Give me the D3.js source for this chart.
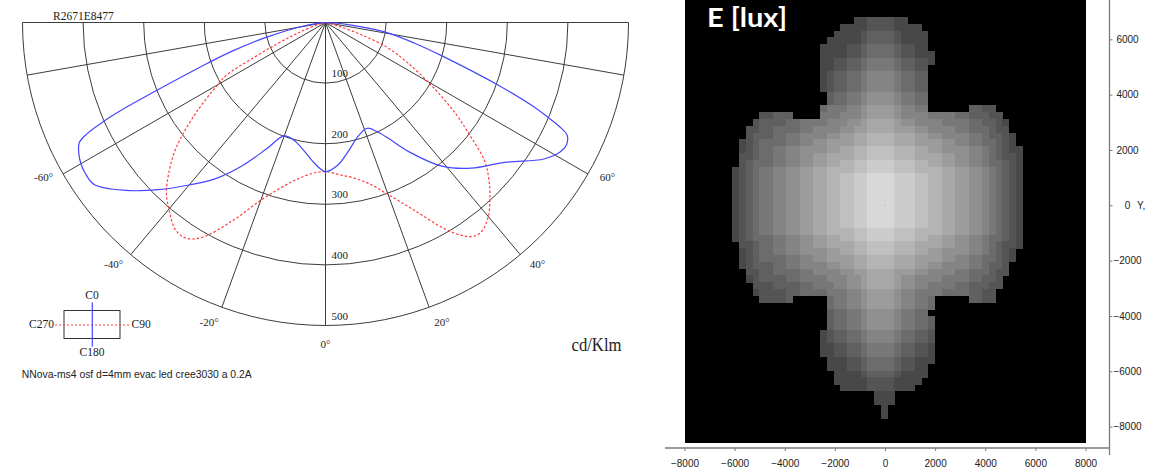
<!DOCTYPE html>
<html>
<head>
<meta charset="utf-8">
<script src="https://cdn.jsdelivr.net/npm/d3@7"></script>
<style>
  html, body { margin: 0; padding: 0; background: #fff; }
  svg { display: block; }
  .serif { font-family: "Liberation Serif", "Times New Roman", serif; fill: #222; }
  .sans { font-family: "Liberation Sans", Arial, sans-serif; fill: #222; }
</style>
</head>
<body>
<div id="chart"></div>
<script>
// photometric curves: gamma angle (deg, negative = left half) and intensity (cd/klm)
const blueAngles = [-90, -85, -80, -76, -73, -71, -68, -67, -66, -65, -64, -62, -60, -58, -55, -50, -45, -40, -35, -30, -25, -20, -15, -10, -5,
  0, 5, 10, 15, 20, 22, 25, 28, 33, 39, 45, 52, 58, 61, 63, 65, 66, 67, 68, 70, 74, 77, 81, 85, 90];
const blueValues = [0, 12, 45, 100, 160, 205, 305, 355, 400, 434, 452, 461, 466, 468, 466, 431, 390, 350, 314, 272, 230, 199, 201, 213, 231,
  246, 236, 216, 198, 188, 188, 198, 214, 255, 305, 340, 375, 425, 442, 446, 440, 423, 397, 370, 305, 200, 150, 97, 35, 0];

const redAngles = [-90, -80, -75, -70, -68, -66, -64, -62, -60, -55, -50, -46, -43, -40, -36, -33, -30, -25, -20, -15, -10, -5,
  0, 5, 10, 15, 20, 25, 30, 33, 35, 37, 40, 43, 46, 49, 52, 55, 59, 64, 68, 71, 74, 78, 80, 90];
const redValues = [0, 0, 12, 40, 60, 90, 130, 185, 205, 262, 322, 360, 385, 402, 422, 424, 410, 360, 312, 282, 262, 250,
  246, 252, 260, 275, 302, 340, 393, 420, 430, 430, 418, 398, 375, 348, 302, 262, 207, 150, 110, 65, 25, 5, 0, 0];

const radiusTicks = [100, 200, 300, 400, 500];
const spokeAngles = [-80, -60, -40, -20, 0, 20, 40, 60, 80];
const angleTicks = [-60, -40, -20, 0, 20, 40, 60];

const xTicks = [-8000, -6000, -4000, -2000, 0, 2000, 4000, 6000, 8000];
const yTicks = [6000, 4000, 2000, 0, -2000, -4000, -6000, -8000];

// illuminance raster: [row, first column, hex levels]  (0 = black, f = brightest)
const heatSegments = [
  [3, 25, '33444433'],
  [4, 23, '333344443333'],
  [5, 22, '33334555543333'],
  [6, 21, '333334555543333'],
  [7, 20, '3333445666654433'],
  [8, 20, '33334456666544333'],
  [9, 20, '33445567777655443'],
  [10, 20, '3344556777765544'],
  [11, 20, '3455667888876655'],
  [12, 20, '3455667888876655'],
  [13, 20, '3455667888876655'],
  [14, 21, '566778999987766'],
  [15, 21, '566778999987766'],
  [16, 20, '6777889aaaa98877'], [16, 42, '5544'],
  [17, 11, '44555'], [17, 20, '7778889aaaa9888877776655544'],
  [18, 10, '4555566777788899abbbba9988887777665543'],
  [19, 9, '4455666677888899aabbbbaaa99888877666544'],
  [20, 9, '45556677888899aabbccccbbbaa9988887765543'],
  [21, 8, '3456666778899aaaabbccccbbbaaaa99887766543'],
  [22, 8, '3456677889999aabbccddddcccbbaa999988765433'],
  [23, 8, '44566778899aabbbbccddddcccbbbbaa9988765443'],
  [24, 8, '45666778899aabbccddeeeedddccbbaa9988766543'],
  [25, 7, '3456778899aabbccccddeeeedddccccbbaa99876543'],
  [26, 7, '3456778899aabbccddeeffffeeeddccbbaa99876543'],
  [27, 7, '3456778899aabbccddeeffffeeeddccbbaa99876543'],
  [28, 7, '3456778899aabbccddeeffffeeeddccbbaa99876543'],
  [29, 7, '3456778899aabbccddeeffffeeeddccbbaa99876543'],
  [30, 7, '3456778899aabbccddeeffffeeeddccbbaa99876543'],
  [31, 7, '3456778899aabbccddeeffffeeeddccbbaa99876543'],
  [32, 7, '3456778899aabbccddeeffffeeeddccbbaa99876543'],
  [33, 7, '3456778899aabbccddeeffffeeeddccbbaa99876543'],
  [34, 7, '3456778899aabbccccddeeeedddccccbbaa99876543'],
  [35, 7, '345666778899aabbccddeeeedddccbbaa9988766543'],
  [36, 8, '44566778899aabbbbccddddcccbbbbaa9988765443'],
  [37, 8, '3456677889999aabbccddddcccbbaa99998876543'],
  [38, 8, '3456666778899aaaabbccccbbbaaaa99887766543'],
  [39, 8, '345556677888899aabbccccbbbaa998888776554'],
  [40, 9, '4455666677888899aabbbbaaa99888877666544'],
  [41, 9, '34555566777788899abbbba998888777766554'],
  [42, 10, '4445555667778899abbbba998877776655544'],
  [43, 10, '34444556666777889aaaa988777766665544'],
  [44, 11, '44445'], [44, 21, '677889aaaa988776'], [44, 42, '5544'],
  [45, 21, '677889aaaa988776'],
  [46, 21, '566778999987766'],
  [47, 21, '5667789999877665'],
  [48, 21, '5667789999877665'],
  [49, 20, '34556678888766554'],
  [50, 20, '34556678888766554'],
  [51, 20, '33445567777655443'],
  [52, 20, '33445567777655443'],
  [53, 21, '3334456666544333'],
  [54, 21, '333445666654433'],
  [55, 22, '33334555543333'],
  [56, 22, '3333344443333'],
  [57, 23, '33334444333'],
  [58, 28, '333'],
  [59, 28, '333'],
  [60, 29, '3'],
  [61, 29, '3']
];

const width = 1171;
const height = 472;

const svg = d3.select('#chart').append('svg')
  .attr('width', width)
  .attr('height', height);

// ---------- polar diagram ----------
const r = d3.scaleLinear().domain([0, 500]).range([0, 303]);
const toRad = (deg) => (180 - deg) * Math.PI / 180;
const gridColor = '#3c3c3c';

const polar = svg.append('g').attr('transform', 'translate(325.5, 22.5)');

radiusTicks.forEach((v) => {
  const p = d3.path();
  p.moveTo(r(v), 0);
  p.arc(0, 0, r(v), 0, Math.PI);
  polar.append('path').attr('d', p.toString())
    .attr('fill', 'none').attr('stroke', gridColor).attr('stroke-width', 1);
});

const edgeL = d3.pointRadial(toRad(-90), r(500));
const edgeR = d3.pointRadial(toRad(90), r(500));
polar.append('line')
  .attr('x1', edgeL[0]).attr('y1', edgeL[1]).attr('x2', edgeR[0]).attr('y2', edgeR[1])
  .attr('stroke', gridColor).attr('stroke-width', 1);

spokeAngles.forEach((a) => {
  const end = d3.pointRadial(toRad(a), r(500));
  polar.append('line')
    .attr('x1', 0).attr('y1', 0).attr('x2', end[0]).attr('y2', end[1])
    .attr('stroke', gridColor).attr('stroke-width', 1);
});

const radial = d3.lineRadial()
  .angle((d) => toRad(d[0]))
  .radius((d) => r(d[1]))
  .curve(d3.curveCatmullRom.alpha(0.5));

polar.append('path')
  .attr('d', radial(redAngles.map((a, i) => [a, redValues[i]])))
  .attr('fill', 'none').attr('stroke', '#ff3b3b').attr('stroke-width', 1.2)
  .attr('stroke-dasharray', '2.5,2');

polar.append('path')
  .attr('d', radial(blueAngles.map((a, i) => [a, blueValues[i]])))
  .attr('fill', 'none').attr('stroke', '#4646ff').attr('stroke-width', 1.2);

polar.selectAll('.rlabel').data(radiusTicks).enter().append('text')
  .attr('class', 'serif')
  .attr('x', 6)
  .attr('y', (d) => r(d) - 6)
  .attr('font-size', 11)
  .text((d) => d);

polar.selectAll('.alabel').data(angleTicks).enter().append('text')
  .attr('class', 'serif')
  .attr('font-size', 11)
  .attr('text-anchor', 'middle')
  .attr('dy', '0.35em')
  .attr('x', (d) => d3.pointRadial(toRad(d + Math.sign(d) * 1.2), r(531))[0])
  .attr('y', (d) => d3.pointRadial(toRad(d + Math.sign(d) * 1.2), r(531))[1])
  .text((d) => d + '\u00b0');

svg.append('text').attr('class', 'serif').attr('x', 53).attr('y', 19.5)
  .attr('font-size', 11.5).text('R2671E8477');

svg.append('text').attr('class', 'serif').attr('x', 571.5).attr('y', 350.5)
  .attr('font-size', 18).attr('textLength', 50).attr('lengthAdjust', 'spacingAndGlyphs')
  .text('cd/Klm');

// legend
const legend = svg.append('g');
legend.append('rect').attr('x', 64).attr('y', 310.5).attr('width', 56).attr('height', 28)
  .attr('fill', 'none').attr('stroke', '#333').attr('stroke-width', 1);
legend.append('line').attr('x1', 55).attr('x2', 130).attr('y1', 325).attr('y2', 325)
  .attr('stroke', '#ff3b3b').attr('stroke-width', 1.2).attr('stroke-dasharray', '2,2');
legend.append('line').attr('x1', 92.3).attr('x2', 92.3).attr('y1', 302.5).attr('y2', 346.5)
  .attr('stroke', '#4646ff').attr('stroke-width', 1.2);
legend.append('text').attr('class', 'serif').attr('font-size', 11.5).attr('text-anchor', 'middle')
  .attr('x', 92).attr('y', 299.3).text('C0');
legend.append('text').attr('class', 'serif').attr('font-size', 11.5).attr('text-anchor', 'middle')
  .attr('x', 92).attr('y', 356).text('C180');
legend.append('text').attr('class', 'serif').attr('font-size', 11.5).attr('text-anchor', 'end')
  .attr('x', 54).attr('y', 327.5).text('C270');
legend.append('text').attr('class', 'serif').attr('font-size', 11.5)
  .attr('x', 131.5).attr('y', 327.5).text('C90');

svg.append('text').attr('class', 'sans').attr('x', 21.7).attr('y', 377.5)
  .attr('font-size', 11).attr('textLength', 230).attr('lengthAdjust', 'spacingAndGlyphs')
  .text('NNova-ms4 osf d=4mm evac led cree3030 a 0.2A');

// ---------- illuminance raster ----------
const plot = { left: 685, right: 1086, top: 0, bottom: 443 };
const xMm = d3.scaleLinear().domain([-8000, 8000]).range([684.5, 1085.5]);
const yMm = d3.scaleLinear().domain([0, 6000]).range([205.3, 39.3]);
const col = d3.scaleBand().domain(d3.range(60)).range([685, 685 + 60 * 6.75]);
const row = d3.scaleBand().domain(d3.range(66)).range([-3.4, -3.4 + 66 * 6.8]);
const gray = d3.scaleLinear().domain([0, 15]).range([36, 216]);

svg.append('defs').append('clipPath').attr('id', 'plot-clip')
  .append('rect').attr('x', plot.left).attr('y', plot.top)
  .attr('width', plot.right - plot.left).attr('height', plot.bottom - plot.top);

svg.append('rect').attr('x', plot.left).attr('y', plot.top)
  .attr('width', plot.right - plot.left).attr('height', plot.bottom - plot.top)
  .attr('fill', '#000');

const cells = [];
heatSegments.forEach(([ri, c0, levels]) => {
  levels.split('').forEach((ch, k) => {
    const lv = parseInt(ch, 16);
    if (lv > 0) cells.push({ r: ri, c: c0 + k, lv: lv });
  });
});

svg.append('g').attr('clip-path', 'url(#plot-clip)')
  .attr('shape-rendering', 'crispEdges')
  .selectAll('rect').data(cells).enter().append('rect')
  .attr('x', (d) => col(d.c))
  .attr('y', (d) => row(d.r))
  .attr('width', col.bandwidth() + 0.3)
  .attr('height', row.bandwidth() + 0.3)
  .attr('fill', (d) => { const g = Math.round(gray(d.lv)); return d3.rgb(g, g, g); });

svg.append('rect').attr('x', xMm(0) - 0.5).attr('y', yMm(0) - 0.5)
  .attr('width', 1.2).attr('height', 1.2).attr('fill', '#ff8a8a');

svg.append('text').attr('x', 707).attr('y', 26.5)
  .attr('font-family', 'Lato, "Open Sans", sans-serif').attr('font-weight', 'bold')
  .attr('font-size', 26).attr('fill', '#fff')
  .attr('textLength', 80).attr('lengthAdjust', 'spacingAndGlyphs')
  .text('E [lux]');

// axes
const axisColor = '#7a7a7a';
const yAxis = svg.append('g').attr('transform', 'translate(1109.5, 0)')
  .call(d3.axisRight(yMm).tickValues(yTicks).tickSize(3).tickFormat(d3.format('d')));
yAxis.select('.domain').remove();
yAxis.selectAll('line').attr('stroke', axisColor);
yAxis.selectAll('text').attr('class', 'sans').attr('font-size', 10)
  .attr('text-anchor', 'middle').attr('x', 18).attr('fill', '#111');
yAxis.append('line').attr('x1', 0).attr('x2', 0).attr('y1', 0).attr('y2', 455)
  .attr('stroke', axisColor).attr('stroke-width', 1.3);
svg.append('text').attr('class', 'sans').attr('font-size', 10).attr('x', 1137).attr('y', yMm(0) + 3.6)
  .text('Y,');

const xAxis = svg.append('g').attr('transform', 'translate(0, 448)')
  .call(d3.axisBottom(xMm).tickValues(xTicks).tickSize(3).tickPadding(9).tickFormat(d3.format('d')));
xAxis.select('.domain').remove();
xAxis.selectAll('line').attr('stroke', axisColor);
xAxis.selectAll('text').attr('class', 'sans').attr('font-size', 10).attr('fill', '#111');
xAxis.append('line').attr('x1', 665).attr('x2', 1109.5).attr('y1', 0).attr('y2', 0)
  .attr('stroke', axisColor).attr('stroke-width', 1.3);
</script>
</body>
</html>
